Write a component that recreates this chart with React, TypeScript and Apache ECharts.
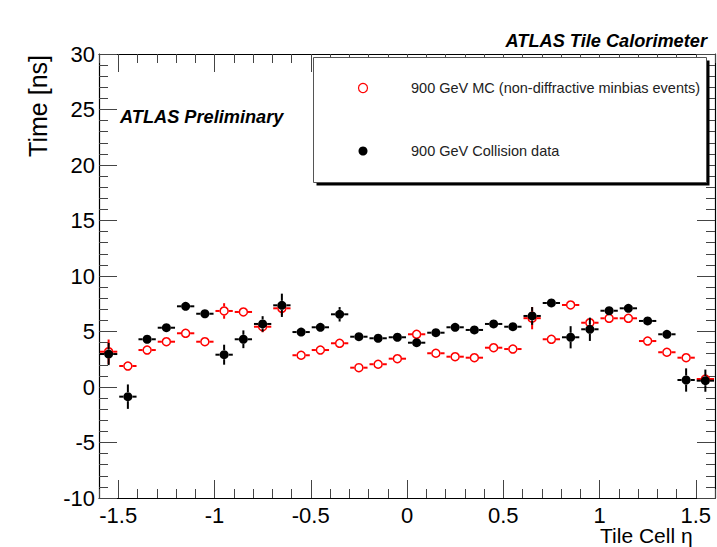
import React, { useEffect, useRef } from "react";
import * as echarts from "echarts";

// ---- data ----
const etaBins = [
  -1.55, -1.45, -1.35, -1.25, -1.15, -1.05, -0.95, -0.85, -0.75, -0.65, -0.55,
  -0.45, -0.35, -0.25, -0.15, -0.05, 0.05, 0.15, 0.25, 0.35, 0.45, 0.55, 0.65,
  0.75, 0.85, 0.95, 1.05, 1.15, 1.25, 1.35, 1.45, 1.55,
];
const mcTime = [
  3.18, 1.89, 3.33, 4.08, 4.84, 4.08, 6.85, 6.76, 5.43, 7.09, 2.86, 3.33, 3.94,
  1.74, 2.05, 2.55, 4.75, 3.04, 2.73, 2.64, 3.54, 3.42, 6.2, 4.3, 7.39, 5.79,
  6.19, 6.19, 4.14, 3.13, 2.64, 0.72,
];
const mcErr = [
  1.1, 0.3, 0.3, 0.3, 0.3, 0.3, 0.7, 0.4, 0.5, 0.6, 0.3, 0.3, 0.3, 0.3, 0.3,
  0.3, 0.3, 0.3, 0.3, 0.3, 0.3, 0.3, 1.0, 0.3, 0.4, 0.4, 0.3, 0.3, 0.3, 0.3,
  0.3, 0.3,
];
const dataTime = [
  2.97, -0.87, 4.3, 5.34, 7.27, 6.6, 2.91, 4.3, 5.68, 7.36, 4.95, 5.38, 6.55,
  4.53, 4.39, 4.48, 3.99, 4.89, 5.38, 5.14, 5.68, 5.43, 6.4, 7.57, 4.48, 5.2,
  6.87, 7.09, 5.95, 4.75, 0.63, 0.57,
];
const dataErr = [
  1.0, 1.1, 0.4, 0.4, 0.3, 0.3, 0.9, 0.8, 0.7, 1.05, 0.3, 0.4, 0.65, 0.4, 0.4,
  0.4, 0.4, 0.4, 0.4, 0.4, 0.4, 0.4, 0.8, 0.4, 1.0, 1.05, 0.4, 0.4, 0.3, 0.3,
  1.05, 1.0,
];
const etaHalfWidth = 0.045;
const xMajorTicks = [-1.5, -1, -0.5, 0, 0.5, 1, 1.5];
const xMinorTicks = [
  -1.6, -1.4, -1.3, -1.2, -1.1, -0.9, -0.8, -0.7, -0.6, -0.4, -0.3, -0.2, -0.1,
  0.1, 0.2, 0.3, 0.4, 0.6, 0.7, 0.8, 0.9, 1.1, 1.2, 1.3, 1.4, 1.6,
];
const mcLabel = "900 GeV MC (non-diffractive minbias events)";
const dataLabel = "900 GeV Collision data";

const FONT = '"Liberation Sans", Helvetica, Arial, sans-serif';

function makeRender(filled: boolean, color: string) {
  return (_params: any, api: any) => {
    const x = api.value(0);
    const y = api.value(1);
    const ex = api.value(2);
    const ey = api.value(3);
    const c = api.coord([x, y]);
    const l = api.coord([x - ex, y]);
    const r = api.coord([x + ex, y]);
    const t = api.coord([x, y + ey]);
    const b = api.coord([x, y - ey]);
    const R = 4.5;
    const ls = { stroke: color, lineWidth: 2 };
    const children: any[] = [];
    if (c[0] - l[0] > R)
      children.push({ type: "line", shape: { x1: l[0], y1: c[1], x2: c[0] - R, y2: c[1] }, style: ls });
    if (r[0] - c[0] > R)
      children.push({ type: "line", shape: { x1: c[0] + R, y1: c[1], x2: r[0], y2: c[1] }, style: ls });
    if (c[1] - t[1] > R)
      children.push({ type: "line", shape: { x1: c[0], y1: t[1], x2: c[0], y2: c[1] - R }, style: ls });
    if (b[1] - c[1] > R)
      children.push({ type: "line", shape: { x1: c[0], y1: c[1] + R, x2: c[0], y2: b[1] }, style: ls });
    children.push({
      type: "circle",
      shape: { cx: c[0], cy: c[1], r: filled ? R : R - 0.5 },
      style: filled ? { fill: color } : { fill: "none", stroke: color, lineWidth: 1.5 },
    });
    return { type: "group", children };
  };
}

export default function App() {
  const ref = useRef<HTMLDivElement>(null);
  useEffect(() => {
    if (!ref.current) return;
    const chart = echarts.init(ref.current, null, { renderer: "svg" });
    const mcData = etaBins.map((e, i) => [e, mcTime[i], etaHalfWidth, mcErr[i]]);
    const dData = etaBins.map((e, i) => [e, dataTime[i], etaHalfWidth, dataErr[i]]);
    const tickColor = "#444";
    const lineStyle = { color: "#000", width: 1.2 };
    const xBase = { type: "value", min: -1.6, max: 1.6, splitLine: { show: false } };
    const yBase = {
      type: "value", min: -10, max: 30, interval: 5, splitLine: { show: false },
      minorTick: { show: true, splitNumber: 5, length: 9, lineStyle: { color: tickColor } },
      minorSplitLine: { show: false },
    };
    chart.setOption({
      animation: false,
      backgroundColor: "#fff",
      grid: { left: 99, right: 2, top: 54, bottom: 49, containLabel: false, outerBoundsMode: "none" },
      xAxis: [
        {
          ...xBase, position: "bottom",
          axisLine: { show: true, onZero: false, lineStyle },
          axisTick: { show: true, inside: true, length: 18, customValues: xMajorTicks, lineStyle: { color: tickColor } },
          axisLabel: { show: true, customValues: xMajorTicks, fontSize: 22, color: "#000", margin: 6, fontFamily: FONT },
        },
        {
          ...xBase, position: "bottom",
          axisLine: { show: false, onZero: false },
          axisTick: { show: true, inside: true, length: 9, customValues: xMinorTicks, lineStyle: { color: tickColor } },
          axisLabel: { show: false },
        },
        {
          ...xBase, position: "top",
          axisLine: { show: true, onZero: false, lineStyle },
          axisTick: { show: true, inside: true, length: 18, customValues: xMajorTicks, lineStyle: { color: tickColor } },
          axisLabel: { show: false },
        },
        {
          ...xBase, position: "top",
          axisLine: { show: false, onZero: false },
          axisTick: { show: true, inside: true, length: 9, customValues: xMinorTicks, lineStyle: { color: tickColor } },
          axisLabel: { show: false },
        },
      ],
      yAxis: [
        {
          ...yBase, position: "left",
          axisLine: { show: true, onZero: false, lineStyle },
          axisTick: { show: true, inside: true, length: 18, lineStyle: { color: tickColor } },
          axisLabel: { show: true, fontSize: 22, color: "#000", margin: 4, fontFamily: FONT },
        },
        {
          ...yBase, position: "right",
          axisLine: { show: true, onZero: false, lineStyle },
          axisTick: { show: true, inside: true, length: 18, lineStyle: { color: tickColor } },
          axisLabel: { show: false },
        },
      ],
      series: [
        {
          type: "custom", name: mcLabel, xAxisIndex: 0, yAxisIndex: 0,
          renderItem: makeRender(false, "#ff0000"), data: mcData,
          encode: { x: 0, y: 1 }, z: 3,
        },
        {
          type: "custom", name: dataLabel, xAxisIndex: 0, yAxisIndex: 0,
          renderItem: makeRender(true, "#000000"), data: dData,
          encode: { x: 0, y: 1 }, z: 4,
        },
      ],
      graphic: [
        {
          type: "text", x: 707, y: 41, z: 100,
          style: { text: "ATLAS Tile Calorimeter", fontSize: 18.2, fontWeight: "bold", fontStyle: "italic", fontFamily: FONT, fill: "#000", textAlign: "right", textVerticalAlign: "middle" },
        },
        {
          type: "text", x: 120, y: 117, z: 100,
          style: { text: "ATLAS Preliminary", fontSize: 18.2, fontWeight: "bold", fontStyle: "italic", fontFamily: FONT, fill: "#000", textAlign: "left", textVerticalAlign: "middle" },
        },
        {
          type: "text", x: 38, y: 55, rotation: Math.PI / 2, z: 100,
          style: { text: "Time [ns]", fontSize: 25, fontFamily: FONT, fill: "#000", textAlign: "right", textVerticalAlign: "middle" },
        },
        {
          type: "text", x: 600, y: 525, z: 100,
          style: { text: "Tile Cell η", fontSize: 21, fontFamily: FONT, fill: "#000", textAlign: "left", textVerticalAlign: "top" },
        },
        {
          type: "rect", z: 100, shape: { x: 316.5, y: 60.5, width: 393, height: 125 },
          style: { fill: "#000" },
        },
        {
          type: "rect", z: 101, shape: { x: 313.5, y: 57.5, width: 393, height: 125 },
          style: { fill: "#fff", stroke: "#555", lineWidth: 1 },
        },
        {
          type: "circle", z: 102, shape: { cx: 363, cy: 88, r: 4.5 },
          style: { fill: "none", stroke: "#ff0000", lineWidth: 1.2 },
        },
        {
          type: "circle", z: 102, shape: { cx: 363, cy: 151, r: 4.5 },
          style: { fill: "#000" },
        },
        {
          type: "text", x: 411, y: 88, z: 102,
          style: { text: mcLabel, fontSize: 14.5, fontFamily: FONT, fill: "#222", textAlign: "left", textVerticalAlign: "middle" },
        },
        {
          type: "text", x: 411, y: 151, z: 102,
          style: { text: dataLabel, fontSize: 14.5, fontFamily: FONT, fill: "#222", textAlign: "left", textVerticalAlign: "middle" },
        },
      ],
    });
    return () => chart.dispose();
  }, []);
  return (
    <div
      ref={ref}
      style={{ position: "fixed", left: 0, top: 0, width: 717, height: 547, background: "#fff" }}
    />
  );
}
